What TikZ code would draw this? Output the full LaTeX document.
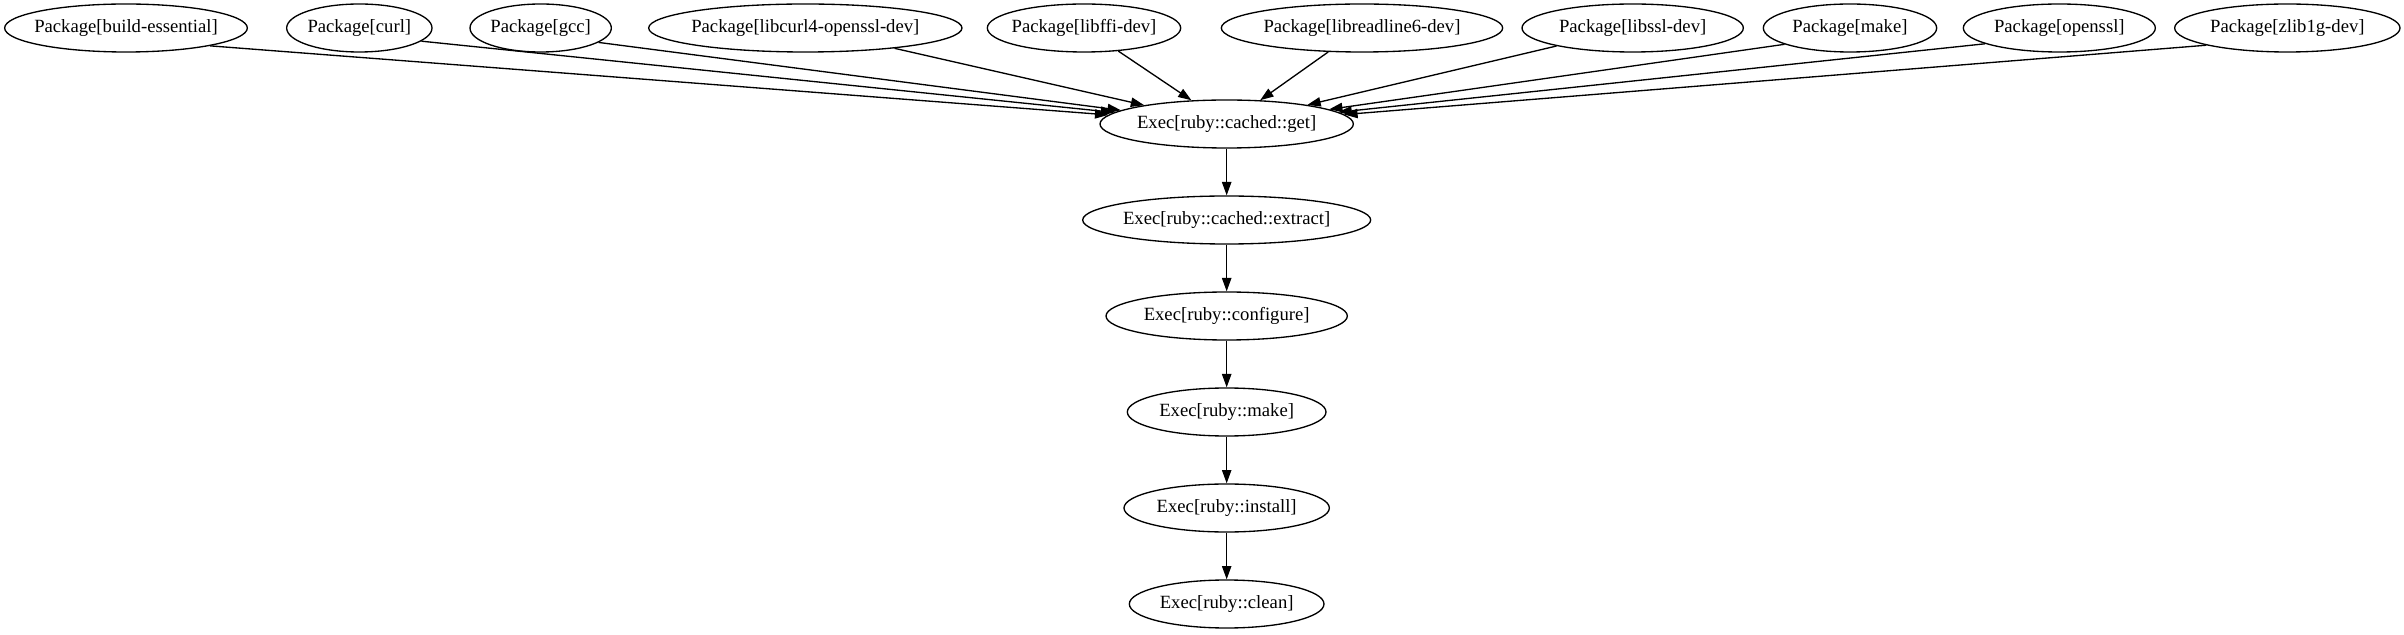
\documentclass[tikz,border=0pt]{standalone}
\usepackage{fontspec}
\setmainfont{Liberation Serif}
\usetikzlibrary{shapes.geometric,arrows.meta}
\tikzset{
  res/.style={draw, ellipse, line width=1bp, minimum height=36bp, inner sep=0pt,
    font=\fontsize{14bp}{16bp}\selectfont,
    execute at begin node={\hbox to 0pt\bgroup\hss},
    execute at end node={\hss\egroup}},
  dep/.style={line width=1bp, -{Triangle[length=10bp,width=7bp]}}
}
\begin{document}
\begin{tikzpicture}[x=1bp, y=-1bp]
            \useasboundingbox (0, 0) rectangle (1803, 476.25);
            % packages
            \node[res, minimum width=182bp] (pbuild) at (94.5, 21) {Package[build-essential]};
            \node[res, minimum width=109bp] (pcurl) at (269.5, 21) {Package[curl]};
            \node[res, minimum width=106bp] (pgcc) at (405.5, 21) {Package[gcc]};
            \node[res, minimum width=235bp] (plibcurl) at (604, 21) {Package[libcurl4-openssl-dev]};
            \node[res, minimum width=145bp] (plibffi) at (813, 21) {Package[libffi-dev]};
            \node[res, minimum width=211bp] (preadline) at (1021.5, 21) {Package[libreadline6-dev]};
            \node[res, minimum width=166bp] (plibssl) at (1224.5, 21) {Package[libssl-dev]};
            \node[res, minimum width=130bp] (pmake) at (1387.5, 21) {Package[make]};
            \node[res, minimum width=144bp] (popenssl) at (1544.5, 21) {Package[openssl]};
            \node[res, minimum width=169bp] (pzlib) at (1715.5, 21) {Package[zlib1g-dev]};
            % exec chain
            \node[res, minimum width=190bp] (eget) at (920, 93) {Exec[ruby::cached::get]};
            \node[res, minimum width=216bp] (eextract) at (920, 165) {Exec[ruby::cached::extract]};
            \node[res, minimum width=181bp] (econfigure) at (920, 237) {Exec[ruby::configure]};
            \node[res, minimum width=149bp] (emake) at (920, 309) {Exec[ruby::make]};
            \node[res, minimum width=154bp] (einstall) at (920, 381) {Exec[ruby::install]};
            \node[res, minimum width=146bp] (eclean) at (920, 453) {Exec[ruby::clean]};
            % edges into the fetch step
            \draw[dep] (pbuild.-12) -- (eget);
            \draw[dep] (pcurl.-12) -- (eget);
            \draw[dep] (pgcc.-14) -- (eget);
            \foreach \p in {plibcurl, plibffi, preadline, plibssl}
                \draw[dep] (\p) -- (eget);
            \draw[dep] (pmake.-166) -- (eget);
            \draw[dep] (popenssl.-168) -- (eget);
            \draw[dep] (pzlib.-168) -- (eget);
            \draw[dep] (eget) -- (eextract);
            \draw[dep] (eextract) -- (econfigure);
            \draw[dep] (econfigure) -- (emake);
            \draw[dep] (emake) -- (einstall);
            \draw[dep] (einstall) -- (eclean);
        \end{tikzpicture}
\end{document}
